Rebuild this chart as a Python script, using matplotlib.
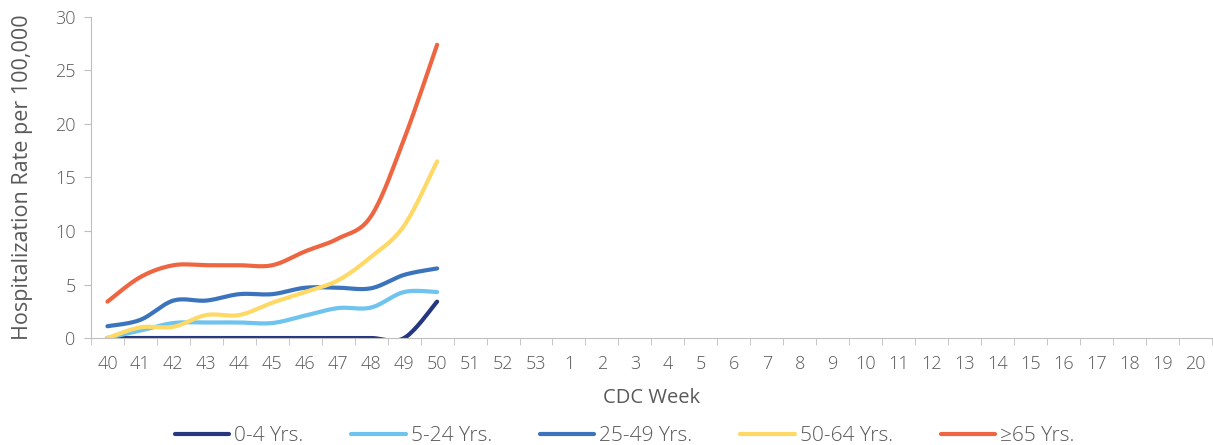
import matplotlib.pyplot as plt
import numpy as np

# CDC weeks shown on the x axis
weeks = [str(w) for w in range(40, 54)] + [str(w) for w in range(1, 21)]

# hospitalization rate per 100,000 by age group (weeks 40-50)
rate_0_4 = [0, 0, 0, 0, 0, 0, 0, 0, 0, 0, 3.4]
rate_5_24 = [0, 0.7, 1.4, 1.45, 1.45, 1.4, 2.1, 2.8, 2.85, 4.3, 4.3]
rate_25_49 = [1.1, 1.7, 3.5, 3.5, 4.1, 4.1, 4.7, 4.7, 4.65, 5.9, 6.5]
rate_50_64 = [0, 1.0, 1.05, 2.15, 2.15, 3.3, 4.3, 5.4, 7.6, 10.5, 16.5]
rate_65 = [3.4, 5.7, 6.8, 6.8, 6.8, 6.8, 8.1, 9.3, 11.4, 18.6, 27.4]

series = [
    ("0-4 Yrs.", rate_0_4, "#25377f"),
    ("5-24 Yrs.", rate_5_24, "#6ec3ef"),
    ("25-49 Yrs.", rate_25_49, "#3b74bd"),
    ("50-64 Yrs.", rate_50_64, "#ffd965"),
    ("\u226565 Yrs.", rate_65, "#ee6641"),
]


def smooth(y, n=20):
    # Catmull-Rom style smoothing like Excel's "smoothed line"
    x = np.arange(len(y), dtype=float)
    y = np.asarray(y, dtype=float)
    px = np.concatenate([[x[0]], x, [x[-1]]])
    py = np.concatenate([[y[0]], y, [y[-1]]])
    xs, ys = [], []
    t = np.linspace(0, 1, n)
    for i in range(1, len(px) - 2):
        p0x, p1x, p2x, p3x = px[i - 1], px[i], px[i + 1], px[i + 2]
        p0y, p1y, p2y, p3y = py[i - 1], py[i], py[i + 1], py[i + 2]
        c1x, c1y = p1x + (p2x - p0x) / 6, p1y + (p2y - p0y) / 6
        c2x, c2y = p2x - (p3x - p1x) / 6, p2y - (p3y - p1y) / 6
        bx = (1 - t) ** 3 * p1x + 3 * (1 - t) ** 2 * t * c1x + 3 * (1 - t) * t ** 2 * c2x + t ** 3 * p2x
        by = (1 - t) ** 3 * p1y + 3 * (1 - t) ** 2 * t * c1y + 3 * (1 - t) * t ** 2 * c2y + t ** 3 * p2y
        xs.extend(bx)
        ys.extend(by)
    return np.array(xs), np.array(ys)


plt.rcParams['font.family'] = ['Open Sans', 'DejaVu Sans']
plt.rcParams['font.weight'] = 'light'
gray = "#595959"

fig = plt.figure(figsize=(12.13, 4.45), dpi=100)
ax = fig.add_axes([0.075, 0.2404, 0.924, 0.7216])

for label, vals, color in series:
    sx, sy = smooth(vals)
    ax.plot(sx, sy, color=color, lw=3, solid_capstyle='round', label=label)

ax.set_xlim(-0.5, len(weeks) - 0.5)
ax.set_ylim(0, 30)
ax.set_yticks(range(0, 31, 5))
ax.set_xticks(range(len(weeks)))
ax.set_xticklabels(weeks)
ax.set_xticks(np.arange(-0.5, len(weeks), 1), minor=True)
ax.tick_params(axis='x', which='major', length=0, pad=12, labelsize=13, colors=gray)
ax.tick_params(axis='x', which='minor', length=5, color="#bfbfbf")
ax.tick_params(axis='y', length=5, color="#bfbfbf", labelsize=13, colors=gray, pad=6)

for s in ['top', 'right']:
    ax.spines[s].set_visible(False)
for s in ['left', 'bottom']:
    ax.spines[s].set_color("#bfbfbf")

ax.set_xlabel("CDC Week", fontsize=14.5, color=gray, labelpad=11)
ax.set_ylabel("Hospitalization Rate per 100,000", fontsize=15.5, color=gray, labelpad=16)

fig.legend(loc='lower center', bbox_to_anchor=(0.515, -0.045), ncol=5, frameon=False,
           fontsize=15, handlelength=2.6, columnspacing=2.3, handletextpad=0.25,
           labelcolor=gray)

fig.savefig("out.png", dpi=100)
